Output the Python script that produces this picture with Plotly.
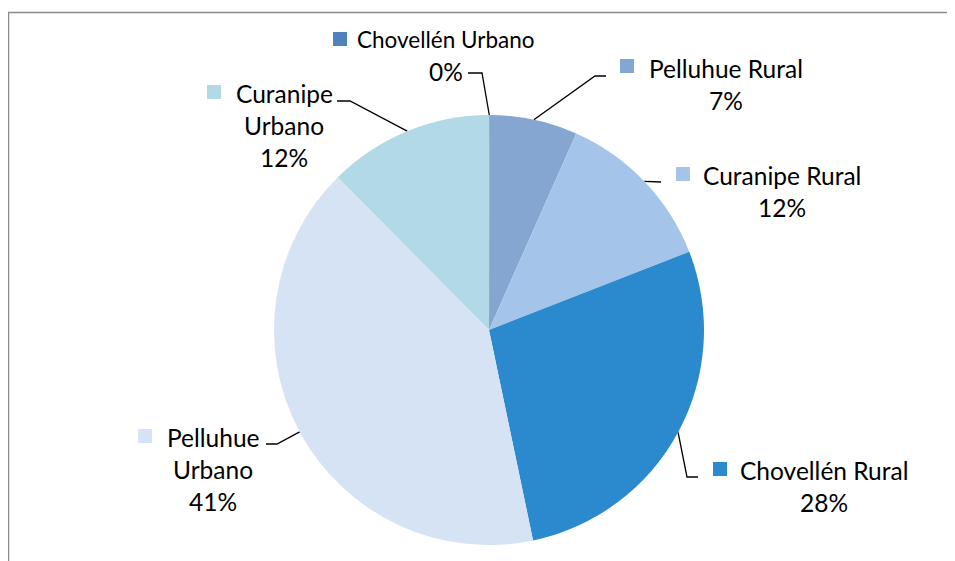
import math
import plotly.graph_objects as go

# ---- data ----
categories = ["Chovellén Urbano", "Pelluhue Rural", "Curanipe Rural",
              "Chovellén Rural", "Pelluhue Urbano", "Curanipe Urbano"]
values = [0.04, 6.6, 12.4, 27.6, 40.8, 12.4]
label_lines = [["Chovellén Urbano"], ["Pelluhue Rural"], ["Curanipe Rural"],
               ["Chovellén Rural"], ["Pelluhue", "Urbano"], ["Curanipe", "Urbano"]]

# ---- styles / layout (page pixel coordinates) ----
colors = ["#4F81BD", "#84A6D0", "#A5C4E9", "#2B8ACE", "#D6E3F4", "#B2DAE6"]
OFF = 8                      # page body margin
WIN_W, WIN_H = 955, 561
W, H = WIN_W - OFF, WIN_H - OFF
CX, CY, R = 489, 330, 215
FONT = "Lato"
FS = 24.5
FS_NAME = [22.5, 24.5, 24.5, 24.5, 24.5, 24.5]
LINE_H = 32
text_cx = [446, 726, 782, 824, 213, 284]
text_top = [39, 68, 175, 470, 437, 93]
square_c = [(340, 39), (627, 66), (683, 174), (720, 469), (145, 436), (214, 92)]
leader_elbow = [(482, 73), (595, 76), None, (687, 477), (277, 444), (350, 101)]
leader_end = [(468, 73), (606, 76), (661, 182), (698, 477), (266, 444), (337, 101)]

total = sum(values)
pcts = [round(100 * v / total) for v in values]

fig = go.Figure()
fig.add_trace(go.Pie(
    labels=categories, values=values, sort=False, direction="clockwise",
    rotation=0, marker=dict(colors=colors, line=dict(width=0)),
    textinfo="none", hoverinfo="skip", showlegend=False,
    domain=dict(x=[(CX - OFF - R) / W, (CX - OFF + R) / W],
                y=[(WIN_H - CY - R) / H, (WIN_H - CY + R) / H]),
))

annotations = []
cum = 0.0
for i, cat in enumerate(categories):
    v = values[i]
    ang = 2 * math.pi * (cum + v / 2) / total
    cum += v
    ex, ey = CX + R * math.sin(ang), CY - R * math.cos(ang)
    pts = [(ex, ey)]
    if leader_elbow[i]:
        pts.append(leader_elbow[i])
    pts.append(leader_end[i])
    fig.add_trace(go.Scatter(x=[p[0] for p in pts], y=[p[1] for p in pts], mode="lines",
                             line=dict(color="#000000", width=1.3), hoverinfo="skip",
                             showlegend=False))
    fig.add_trace(go.Scatter(x=[square_c[i][0]], y=[square_c[i][1]], mode="markers",
                             marker=dict(symbol="square", size=14, color=colors[i],
                                         line=dict(width=0)),
                             hoverinfo="skip", showlegend=False))
    lines = label_lines[i] + [f"{pcts[i]}%"]
    for j, t in enumerate(lines):
        size = FS if j == len(lines) - 1 else FS_NAME[i]
        annotations.append(dict(x=text_cx[i], y=text_top[i] + j * LINE_H, xref="x", yref="y",
                                text=t, showarrow=False, xanchor="center", yanchor="middle",
                                font=dict(family=FONT, size=size, color="#000000")))

fig.update_layout(
    width=W, height=H, margin=dict(l=0, r=0, t=0, b=0),
    paper_bgcolor="white", plot_bgcolor="rgba(0,0,0,0)",
    xaxis=dict(range=[OFF, OFF + W], visible=False, fixedrange=True),
    yaxis=dict(range=[OFF + H, OFF], visible=False, fixedrange=True),
    annotations=annotations,
    shapes=[dict(type="rect", xref="x", yref="y", x0=8.5, y0=12.5, x1=WIN_W + 20, y1=WIN_H + 20,
                 line=dict(color="#8A8A8A", width=1.5), layer="below")],
)

fig.write_html("out.html")
